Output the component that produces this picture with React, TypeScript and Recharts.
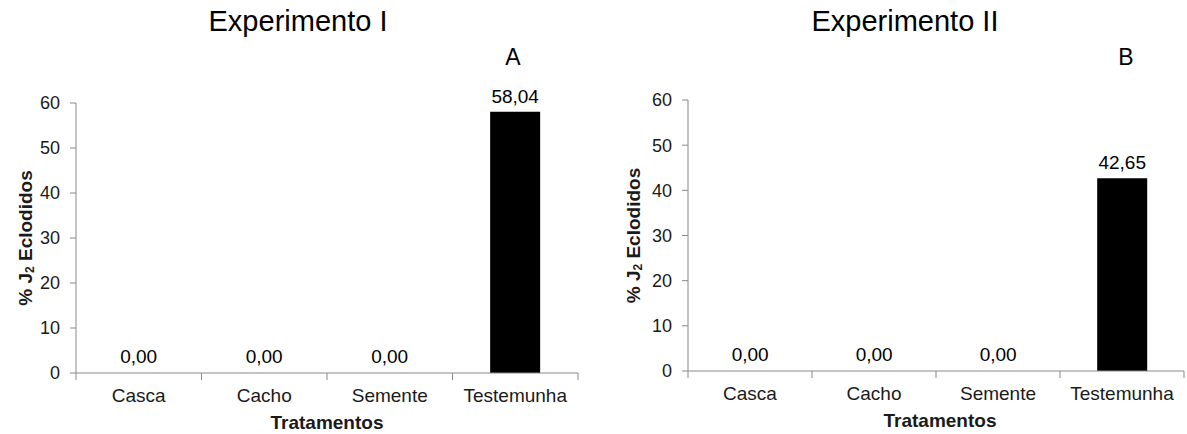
import React from 'react';
import { BarChart, Bar, XAxis, YAxis, LabelList, Cell } from 'recharts';

const categories = ['Casca', 'Cacho', 'Semente', 'Testemunha'];
const expIValues = [0, 0, 0, 58.04];
const expIIValues = [0, 0, 0, 42.65];
const yTicks = [0, 10, 20, 30, 40, 50, 60];

const FONT = '"Liberation Sans", Arial, sans-serif';
const AXIS = '#898989';
const TEXT = '#1a1a1a';

const fmt = (v: any) => Number(v).toFixed(2).replace('.', ',');

interface PanelProps {
  values: number[];
  title: string;
  letter: string;
  left: number;
  width: number;
  yAxisWidth: number;
  top: number;
  bottom: number;
  right: number;
  yLabelX: number;
  xLabelShift: number;
  titleX: number;
  letterX: number;
}

// category tick: label in the middle, tick marks on the band boundaries (Excel style)
const CatTick = (props: any) => {
  const { x, y, payload, index, width } = props;
  const half = width / categories.length / 2;
  const last = index === categories.length - 1;
  return (
    <g>
      <line x1={x - half} y1={y} x2={x - half} y2={y + 7} stroke={AXIS} />
      {last && <line x1={x + half} y1={y} x2={x + half} y2={y + 7} stroke={AXIS} />}
      <text x={x} y={y + 16} dy="0.71em" textAnchor="middle" fontFamily={FONT} fontSize={19} fill={TEXT}>
        {payload.value}
      </text>
    </g>
  );
};

const Panel: React.FC<PanelProps> = (p) => {
  const data = categories.map((name, i) => ({ name, value: p.values[i] }));

  const yLabel = (props: any) => {
    const vb = props.viewBox || {};
    const cx = vb.x + p.yLabelX;
    const cy = vb.y + vb.height / 2;
    return (
      <text
        x={cx}
        y={cy}
        transform={`rotate(-90, ${cx}, ${cy})`}
        textAnchor="middle"
        dominantBaseline="central"
        fontFamily={FONT}
        fontWeight="bold"
        fontSize={19}
        fill={TEXT}
      >
        <tspan>% J</tspan>
        <tspan dy={5} fontSize={12}>2</tspan>
        <tspan dy={-5}> Eclodidos</tspan>
      </text>
    );
  };

  const xLabel = (props: any) => {
    const vb = props.viewBox || {};
    return (
      <text
        x={vb.x + vb.width / 2 + p.xLabelShift}
        y={vb.y + 56}
        textAnchor="middle"
        fontFamily={FONT}
        fontWeight="bold"
        fontSize={19}
        fill={TEXT}
      >
        Tratamentos
      </text>
    );
  };

  return (
    <div style={{ position: 'absolute', left: p.left, top: 0, width: p.width, height: 434 }}>
      <svg
        width={p.width}
        height={80}
        style={{ position: 'absolute', left: 0, top: 0, pointerEvents: 'none' }}
      >
        <text x={p.titleX} y={31} textAnchor="middle" fontFamily={FONT} fontSize={29} fill="#000">
          {p.title}
        </text>
        <text x={p.letterX} y={65} textAnchor="middle" fontFamily={FONT} fontSize={23} fill="#000">
          {p.letter}
        </text>
      </svg>
      <BarChart
        width={p.width}
        height={434}
        data={data}
        margin={{ top: p.top, right: p.right, bottom: 0, left: 0 }}
        barCategoryGap="30%"
      >
        <XAxis
          dataKey="name"
          height={p.bottom}
          stroke={AXIS}
          tickLine={false}
          tickSize={0}
          tickMargin={0}
          interval={0}
          tick={<CatTick />}
          label={xLabel}
        />
        <YAxis
          width={p.yAxisWidth}
          domain={[0, 60]}
          ticks={yTicks}
          tickSize={6}
          tickMargin={10}
          stroke={AXIS}
          tick={{ fontFamily: FONT, fontSize: 18, fill: TEXT }}
          label={yLabel}
        />
        <Bar dataKey="value" fill="#000" minPointSize={1} isAnimationActive={false}>
          {data.map((d, i) => (
            <Cell key={`c-${i}`} fill={d.value === 0 ? 'transparent' : '#000'} />
          ))}
          <LabelList
            dataKey="value"
            position="top"
            offset={9}
            formatter={fmt}
            style={{ fontFamily: FONT, fontSize: 19, fill: '#000' }}
          />
        </Bar>
      </BarChart>
    </div>
  );
};

export default function App() {
  return (
    <div style={{ position: 'absolute', left: 0, top: 0, width: 1187, height: 434, background: '#fff' }}>
      <Panel
        values={expIValues}
        title="Experimento I"
        letter="A"
        left={0}
        width={600}
        yAxisWidth={76}
        top={103}
        bottom={61}
        right={22}
        yLabelX={25}
        xLabelShift={0}
        titleX={298}
        letterX={513}
      />
      <Panel
        values={expIIValues}
        title="Experimento II"
        letter="B"
        left={600}
        width={587}
        yAxisWidth={88}
        top={100}
        bottom={63}
        right={3}
        yLabelX={33}
        xLabelShift={4}
        titleX={305}
        letterX={526}
      />
    </div>
  );
}
